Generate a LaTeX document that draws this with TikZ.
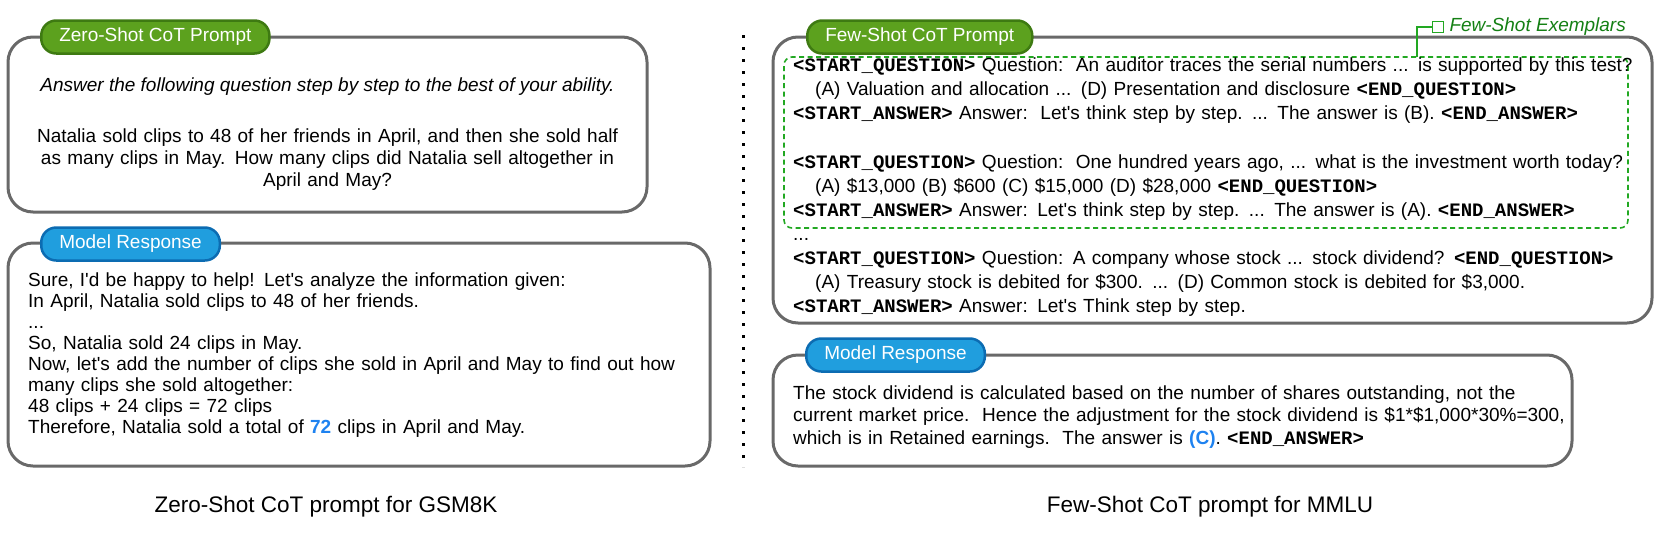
\documentclass[tikz,border=0pt]{standalone}
\usepackage{fontspec}
\setmainfont{Liberation Sans}[Ligatures=TeXOff]
\setmonofont{Liberation Mono}
\usetikzlibrary{positioning}

\definecolor{panelgray}{RGB}{105,105,105}
\definecolor{tagfill}{RGB}{92,161,30}
\definecolor{tagedge}{RGB}{62,122,18}
\definecolor{respfill}{RGB}{32,158,222}
\definecolor{respedge}{RGB}{12,108,178}
\definecolor{hlblue}{RGB}{30,130,240}
\definecolor{exgreen}{RGB}{34,168,34}
\definecolor{exlabel}{RGB}{20,128,20}

\newcommand{\tg}[1]{{\ttfamily\bfseries #1}}

\tikzset{
  panel/.style={draw=panelgray, line width=3pt, rounded corners=25pt, inner sep=0pt},
  prompttag/.style={fill=tagfill, draw=tagedge, line width=2.5pt, rounded corners=15pt,
    minimum height=33pt, inner xsep=18pt, text=white, anchor=west},
  resptag/.style={prompttag, fill=respfill, draw=respedge},
  body/.style={inner sep=0pt, anchor=base west, align=left, text width=#1},
  exbox/.style={draw=exgreen, line width=1.6pt, dashed, dash pattern=on 5pt off 3.5pt,
    rounded corners=8pt, inner sep=0pt},
  exline/.style={draw=exgreen, line width=1.6pt},
  caption/.style={font=\fontsize{22.5}{27}\selectfont}
}

\begin{document}
\begin{tikzpicture}[x=1pt, y=-1pt, font=\fontsize{19}{22}\selectfont]
 \useasboundingbox (0,0) rectangle (1661,536);

 \node[panel, minimum width=639pt, minimum height=175pt] (zsbox) at (327.5,124.5) {};
 \node[panel, minimum width=702pt, minimum height=223pt] (zsresp) at (359,354.5) {};
 \node[panel, minimum width=879pt, minimum height=286pt] (fsbox) at (1212.5,180) {};
 \node[panel, minimum width=799pt, minimum height=111pt] (fsresp) at (1172.5,410.5) {};

 \draw[line width=3pt, dash pattern=on 3pt off 9pt] (743,35) -- (743,467);

 \node[prompttag] (zstag) at (40,37) {Zero-Shot CoT Prompt};
 \node[resptag] (zsresptag) at (40,244) {Model Response};
 \node[prompttag] (fstag) at (806,37) {Few-Shot CoT Prompt};
 \node[resptag] (fsresptag) at (805,355) {Model Response};

 \node[anchor=base, inner sep=0pt] (zsinstr) at (327.5,91)
   {\itshape Answer the following question step by step to the best of your ability.};
 \node[anchor=base, inner sep=0pt, align=center, text width=620pt] (zsq) at (327.5,142)
   {Natalia sold clips to 48 of her friends in April, and then she sold half\\
    as many clips in May. How many clips did Natalia sell altogether in\\
    April and May?};

 \node[body=680pt, font=\fontsize{19}{21}\selectfont] (zsans) at (28,286)
   {Sure, I'd be happy to help! Let's analyze the information given:\\
    In April, Natalia sold clips to 48 of her friends.\\
    ...\\
    So, Natalia sold 24 clips in May.\\
    Now, let's add the number of clips she sold in April and May to find out how\\
    many clips she sold altogether:\\
    48 clips + 24 clips = 72 clips\\
    Therefore, Natalia sold a total of \textcolor{hlblue}{\bfseries 72} clips in April and May.};

 \node[exbox, minimum width=844pt, minimum height=171pt] (exemplars) at (1206,142.5) {};

 \node[body=850pt, font=\fontsize{19}{24}\selectfont] (fsq) at (793,71)
   {\tg{<START\_QUESTION>} Question:\ \ An auditor traces the serial numbers ... is supported by this test?\\
    \hspace*{22pt}(A) Valuation and allocation ... (D) Presentation and disclosure \tg{<END\_QUESTION>}\\
    \tg{<START\_ANSWER>} Answer:\ \ Let's think step by step. ... The answer is (B). \tg{<END\_ANSWER>}\\[25pt]
    \tg{<START\_QUESTION>} Question:\ \ One hundred years ago, ... what is the investment worth today?\\
    \hspace*{22pt}(A) \$13,000 (B) \$600 (C) \$15,000 (D) \$28,000 \tg{<END\_QUESTION>}\\
    \tg{<START\_ANSWER>} Answer: Let's think step by step. ... The answer is (A). \tg{<END\_ANSWER>}\\
    ...\\
    \tg{<START\_QUESTION>} Question: A company whose stock ... stock dividend? \tg{<END\_QUESTION>}\\
    \hspace*{22pt}(A) Treasury stock is debited for \$300. ... (D) Common stock is debited for \$3,000.\\
    \tg{<START\_ANSWER>} Answer: Let's Think step by step.};

 \node[body=780pt, font=\fontsize{19}{22.5}\selectfont] (fsans) at (793,399)
   {The stock dividend is calculated based on the number of shares outstanding, not the\\
    current market price.\ \ Hence the adjustment for the stock dividend is \$1*\$1,000*30\%=300,\\
    which is in Retained earnings.\ \ The answer is \textcolor{hlblue}{\bfseries (C)}. \tg{<END\_ANSWER>}};

 \node[draw=exgreen, line width=1.6pt, minimum size=11pt, inner sep=0pt] (exsq) at (1438,27) {};
 \node[right=5pt of exsq, inner sep=0pt, text=exlabel, font=\fontsize{19}{22}\itshape] (exname) {Few-Shot Exemplars};
 \coordinate (exfoot) at (1417,57);
 \draw[exline] (exfoot) |- (exsq.west);

 \node[caption] (zscap) at (326,507) {Zero-Shot CoT prompt for GSM8K};
 \node[caption] (fscap) at (1210,507) {Few-Shot CoT prompt for MMLU};
\end{tikzpicture}
\end{document}
